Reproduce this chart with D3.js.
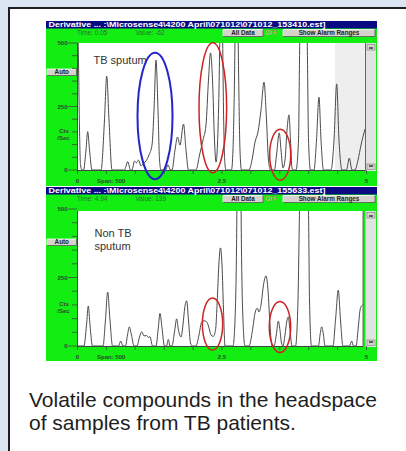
<!DOCTYPE html>
<html><head><meta charset="utf-8">
<script src="https://cdn.jsdelivr.net/npm/d3@7"></script>
<style>html,body{margin:0;padding:0;background:#dce6f2;}svg{display:block}</style>
</head><body><svg id="c" width="406" height="451"></svg>
<script>
// ---------- data ----------
const xMinorTicks = [0,0.5,1,1.5,2,2.5,3,3.5,4,4.5,5];
const xTickLabels = ["0","2.5","5"];
const xTickValues = [0,2.5,5];
const yMinorTicks = [0,50,100,150,200,250,300,350,400,450,500];
const yTickValues = [0,250,500];
const panelTitles = [
  "Derivative ... :\\Microsense4\\4200 April\\071012\\071012_153410.est]",
  "Derivative ... :\\Microsense4\\4200 April\\071012\\071012_155633.est]"
];
const timeLabels = ["Time: 0.05","Time: 4.94"];
const valueLabels = ["Value: -62","Value: 139"];
const sampleLabels = [["TB sputum"],["Non TB","sputum"]];
const captionLines = ["Volatile compounds in the headspace","of samples from TB patients."];

// trace of TB sputum sample [time, cts/sec]
const tbTrace = [
 [0.000,630],[0.017,433],[0.035,157],[0.052,20],[0.078,0],
 [0.104,0],[0.147,79],[0.176,151],[0.208,79],[0.251,0],
 [0.407,0],[0.467,197],[0.505,370],[0.545,197],[0.597,0],
 [0.813,0],[0.869,33],[0.917,0],
 [0.943,0],[0.986,35],[1.021,28],[1.055,39],[1.099,16],[1.133,24],
 [1.168,31],[1.237,59],[1.289,98],[1.324,236],[1.358,433],[1.393,236],[1.419,39],[1.445,0],
 [1.522,0],[1.566,20],[1.609,0],
 [1.635,0],[1.687,79],[1.730,130],[1.773,98],[1.834,181],[1.877,79],[1.920,0],
 [2.050,0],[2.111,59],[2.171,118],[2.223,177],[2.266,354],[2.301,461],[2.336,354],[2.370,118],[2.396,31],
 [2.448,315],[2.465,551],[2.488,748],[2.509,551],[2.526,236],[2.552,20],[2.569,0],
 [2.664,0],[2.690,79],[2.716,354],[2.730,591],[2.753,748],[2.775,591],[2.789,354],[2.811,79],[2.837,0],
 [2.967,0],[3.019,39],[3.071,110],[3.123,150],[3.175,236],[3.227,346],[3.270,197],[3.304,39],[3.339,0],
 [3.408,0],[3.443,59],[3.491,146],[3.521,79],[3.555,8],[3.590,39],[3.625,157],[3.659,217],[3.685,118],[3.711,8],[3.728,0],
 [3.780,0],[3.824,118],[3.841,433],[3.858,669],[3.910,787],[3.962,669],[3.979,433],[3.997,118],[4.031,0],
 [4.092,0],[4.135,118],[4.178,287],[4.213,118],[4.256,0],
 [4.386,0],[4.438,118],[4.484,339],[4.524,118],[4.576,0],
 [4.654,0],[4.702,47],[4.749,0],
 [4.801,0],[4.853,39],[4.905,98],[4.974,161]
];
// trace of non TB sputum sample [time, cts/sec]
const nonTbTrace = [
 [0.009,0],[0.112,0],[0.156,77],[0.187,146],[0.216,77],[0.260,0],
 [0.441,0],[0.484,95],[0.522,197],[0.562,95],[0.606,0],
 [0.709,0],[0.747,18],[0.787,0],
 [0.830,0],[0.865,40],[0.896,70],[0.934,40],[0.978,0],
 [1.029,0],[1.073,33],[1.111,52],[1.151,37],[1.197,38],[1.228,31],[1.254,34],[1.298,0],
 [1.358,0],[1.398,66],[1.427,119],[1.462,66],[1.505,0],
 [1.540,0],[1.571,24],[1.600,0],
 [1.635,0],[1.678,51],[1.716,99],[1.747,58],[1.791,33],[1.825,77],[1.855,139],[1.889,165],[1.920,95],[1.955,11],[1.981,0],
 [2.050,0],[2.102,40],[2.149,88],[2.189,92],[2.232,89],[2.266,73],[2.310,40],[2.349,35],[2.388,58],[2.422,186],[2.448,307],[2.474,358],[2.500,296],[2.526,131],[2.552,0],
 [2.690,0],[2.725,95],[2.751,350],[2.768,715],[2.794,825],[2.820,715],[2.837,350],[2.863,95],[2.898,0],
 [2.967,0],[3.028,58],[3.071,120],[3.111,138],[3.140,124],[3.175,150],[3.218,223],[3.261,256],[3.296,204],[3.330,77],[3.365,0],
 [3.400,0],[3.439,40],[3.474,91],[3.503,58],[3.529,11],[3.555,0],[3.590,40],[3.619,88],[3.647,106],[3.676,58],[3.711,0],
 [3.772,0],[3.815,168],[3.841,493],[3.867,715],[3.919,788],[3.970,715],[3.997,493],[4.014,168],[4.048,0],
 [4.170,0],[4.196,40],[4.225,70],[4.256,40],[4.282,0],
 [4.420,0],[4.464,95],[4.512,204],[4.550,95],[4.593,0],
 [4.706,0],[4.744,18],[4.775,0],
 [4.818,0],[4.862,77],[4.888,131],[4.913,146],[4.945,150]
];
// highlighted regions: centre time, centre value, half-span time, half-span value
const tbMarks = [
 {t:1.341,v:213,dt:0.303,dv:249,kind:"blue"},
 {t:2.341,v:245,dt:0.239,dv:256,kind:"red"},
 {t:3.507,v:60,dt:0.182,dv:100,kind:"red"}
];
const nonTbMarks = [
 {t:2.336,v:80,dt:0.176,dv:95,kind:"red"},
 {t:3.503,v:69,dt:0.185,dv:93,kind:"red"}
];

// ---------- drawing ----------
const svg = d3.select("#c");
const GREEN = "#12ee12", NAVY = "#0a0a82", AXIS = "#3a4a3a";
const markColor = {blue:"#2424cc", red:"#cc2424"};
const markWidth = {blue:2, red:1.5};

svg.append("rect").attr("x",0).attr("y",0).attr("width",406).attr("height",451).attr("fill","#dce6f2");
svg.append("rect").attr("x",9).attr("y",8).attr("width",420).attr("height",460)
  .attr("fill","#fff").attr("stroke","#1e1e1e").attr("stroke-width",2);

const x = d3.scaleLinear().domain([0,5]).range([77.5,366.5]);

const panels = [
 {top:21, bottom:186, plotTop:43, base:170, y500:43, plotRight:365.5, shade:335, trace:tbTrace, marks:tbMarks, label:[93.5,63.5], lab:0},
 {top:187, bottom:361, plotTop:211, base:346, y500:209, plotRight:363, shade:null, trace:nonTbTrace, marks:nonTbMarks, label:[94.5,237], lab:1}
];

const small = "'Liberation Sans', Arial, sans-serif";

panels.forEach((p,i)=>{
  const g = svg.append("g");
  const y = d3.scaleLinear().domain([0,500]).range([p.base,p.y500]);
  g.append("rect").attr("x",46).attr("y",p.top).attr("width",331).attr("height",p.bottom-p.top).attr("fill",GREEN);
  g.append("rect").attr("x",46).attr("y",p.top).attr("width",331).attr("height",7.5).attr("fill",NAVY);
  g.append("text").attr("x",48.5).attr("y",p.top+6.2).attr("fill","#fff")
    .attr("font-family",small).attr("font-weight","bold").attr("font-size",7)
    .attr("textLength",277).attr("lengthAdjust","spacingAndGlyphs").text(panelTitles[i]);
  g.append("text").attr("x",77).attr("y",p.top+13.8).attr("fill","#2f6f2f")
    .attr("font-family",small).attr("font-size",6.5).text(timeLabels[i]);
  g.append("text").attr("x",135.5).attr("y",p.top+13.8).attr("fill","#2f6f2f")
    .attr("font-family",small).attr("font-size",6.5).text(valueLabels[i]);
  const button = (bx,bw,by,bh,txt)=>{
    g.append("rect").attr("x",bx).attr("y",by).attr("width",bw).attr("height",bh).attr("fill","#d6d3cc");
    g.append("path").attr("d",`M${bx},${by+bh}V${by}H${bx+bw}`).attr("fill","none").attr("stroke","#fff").attr("stroke-width",0.8);
    g.append("path").attr("d",`M${bx},${by+bh}H${bx+bw}V${by}`).attr("fill","none").attr("stroke","#555").attr("stroke-width",0.8);
    g.append("text").attr("x",bx+bw/2).attr("y",by+bh-1.4).attr("text-anchor","middle").attr("fill","#222")
      .attr("font-family",small).attr("font-weight","bold").attr("font-size",6.3).text(txt);
  };
  button(223,40,p.top+8.5,7,"All Data");
  g.append("text").attr("x",265).attr("y",p.top+14).attr("fill","#e8f070").attr("stroke","#446a20").attr("stroke-width",0.25)
    .attr("font-family",small).attr("font-weight","bold").attr("font-size",6.3).text("OFF");
  button(283,92,p.top+8.5,7,"Show Alarm Ranges");
  button(47,29.5,i===0?69:239,6.5,"Auto");

  g.append("rect").attr("x",78).attr("y",p.plotTop).attr("width",p.plotRight-78).attr("height",p.base-p.plotTop).attr("fill","#fff");
  if(p.shade) g.append("rect").attr("x",p.shade).attr("y",p.plotTop).attr("width",p.plotRight-p.shade).attr("height",p.base-p.plotTop).attr("fill","#eeeeee");
  g.append("rect").attr("x",365.5).attr("y",p.plotTop).attr("width",10.5).attr("height",p.base-p.plotTop+1).attr("fill","#e2e2e2");
  g.append("line").attr("x1",p.plotRight).attr("x2",p.plotRight).attr("y1",p.plotTop).attr("y2",p.base).attr("stroke","#666").attr("stroke-width",1);
  [[p.plotTop+1.5,"M-2,1 L2,1"],[p.base-6,"M-2,-0.5 L2,-0.5"]].forEach(([by,dd])=>{
    g.append("rect").attr("x",367).attr("y",by).attr("width",8).attr("height",5.5).attr("fill","#d6d3cc").attr("stroke","#777").attr("stroke-width",0.6);
    g.append("path").attr("transform",`translate(371,${by+2.5})`).attr("d",dd).attr("stroke","#111").attr("stroke-width",1.2);
  });

  g.append("line").attr("x1",77.5).attr("x2",77.5).attr("y1",p.plotTop).attr("y2",p.base+3).attr("stroke",AXIS).attr("stroke-width",1);
  g.append("line").attr("x1",77.5).attr("x2",p.plotRight).attr("y1",p.base+0.5).attr("y2",p.base+0.5).attr("stroke",AXIS).attr("stroke-width",1);
  g.selectAll(null).data(yMinorTicks).join("line")
    .attr("x1",d=>yTickValues.includes(d)?68:72).attr("x2",77.5)
    .attr("y1",d=>y(d)).attr("y2",d=>y(d)).attr("stroke",AXIS).attr("stroke-width",0.8);
  g.selectAll(null).data(yTickValues).join("text")
    .attr("x",67.5).attr("y",d=>y(d)+2).attr("text-anchor","end").attr("fill","#334433")
    .attr("font-family",small).attr("font-weight","bold").attr("font-size",6).text(d=>String(d));
  g.selectAll(null).data(xMinorTicks).join("line")
    .attr("x1",d=>x(d)).attr("x2",d=>x(d)).attr("y1",p.base).attr("y2",p.base+4).attr("stroke",AXIS).attr("stroke-width",0.8);
  g.selectAll(null).data(xTickValues).join("text")
    .attr("x",d=>x(d)).attr("y",p.base+12.5).attr("text-anchor","middle").attr("fill","#334433")
    .attr("font-family",small).attr("font-weight","bold").attr("font-size",6).text((d,k)=>xTickLabels[k]);
  g.append("text").attr("x",97).attr("y",p.base+12.5).attr("fill","#334433")
    .attr("font-family",small).attr("font-weight","bold").attr("font-size",6).text("Span: 500");
  const ctsY = y(150);
  g.append("text").attr("x",64).attr("y",ctsY+1.5).attr("text-anchor","middle").attr("fill","#334433")
    .attr("font-family",small).attr("font-weight","bold").attr("font-size",6).text("Cts");
  g.append("text").attr("x",63.5).attr("y",ctsY+8.5).attr("text-anchor","middle").attr("fill","#334433")
    .attr("font-family",small).attr("font-weight","bold").attr("font-size",6).text("/Sec");

  const cid = "clip"+i;
  svg.append("clipPath").attr("id",cid).append("rect").attr("x",77.5).attr("y",p.plotTop).attr("width",p.plotRight-77.5).attr("height",p.base-p.plotTop+1);
  const line = d3.line().x(d=>x(d[0])).y(d=>y(d[1])).curve(d3.curveMonotoneX);
  g.append("path").datum(p.trace).attr("clip-path",`url(#${cid})`).attr("d",line)
    .attr("fill","none").attr("stroke","#4a4a4a").attr("stroke-width",1).attr("stroke-linejoin","round");

  sampleLabels[p.lab].forEach((s,k)=>{
    g.append("text").attr("x",p.label[0]).attr("y",p.label[1]+k*13).attr("fill","#333")
      .attr("font-family",small).attr("font-size",11).text(s);
  });

  g.selectAll(null).data(p.marks).join("ellipse")
    .attr("cx",d=>x(d.t)).attr("cy",d=>y(d.v))
    .attr("rx",d=>x(d.t+d.dt)-x(d.t)).attr("ry",d=>y(d.v-d.dv)-y(d.v))
    .attr("fill","none").attr("stroke",d=>markColor[d.kind]).attr("stroke-width",d=>markWidth[d.kind]);
});

svg.selectAll(".cap").data(captionLines).join("text")
  .attr("x",29).attr("y",(d,k)=>407+k*23).attr("fill","#1e1e1e")
  .attr("font-family","'Liberation Sans', Arial, sans-serif").attr("font-size",21).text(d=>d);
</script></body></html>
